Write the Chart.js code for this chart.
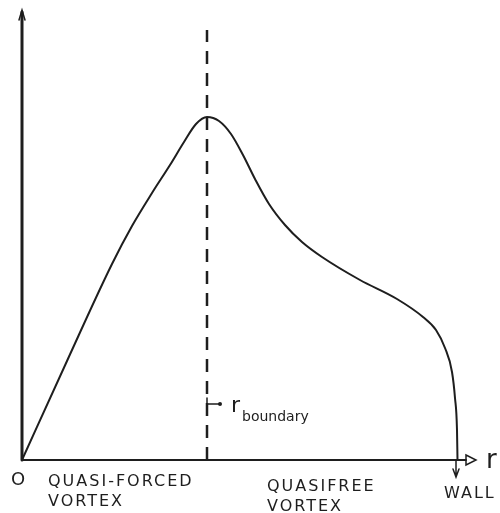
<!DOCTYPE html>
<html>
<head>
<meta charset="utf-8">
<script src="https://cdn.jsdelivr.net/npm/chart.js@4"></script>
<style>
  body { margin: 0; background: #fff; }
  canvas { display: block; }
</style>
</head>
<body>
<canvas id="vortexChart" width="500" height="513"></canvas>
<script>
// radius values and velocity (arbitrary units)
const rValues = [0, 45, 90, 110, 130, 148, 162, 174, 185, 197, 209, 221, 233, 247, 263, 280, 300, 338, 375, 401, 414, 423, 430, 433, 435, 435.5];
const vValues = [0, 99, 196, 234, 267, 295, 318, 336, 343, 339, 326, 305, 281, 256, 235, 218, 203, 180, 161, 143, 130, 112, 88, 62, 30, 0];
const boundaryR = 185;
const boundaryTop = 430;
const wallR = 434;
const axisMax = [450, 450];
const regionLabels = [['QUASI-FORCED', 'VORTEX'], ['QUASIFREE', 'VORTEX']];

const ink = '#1e1e1e';
const handFont = '"DejaVu Sans", sans-serif';

const curve = rValues.map((r, i) => ({ x: r, y: vValues[i] }));
const boundaryLine = [{ x: boundaryR, y: 0 }, { x: boundaryR, y: boundaryTop }];

const sketchPlugin = {
    id: 'sketch',
    afterDatasetsDraw(chart) {
        const ctx = chart.ctx;
        const xs = chart.scales.x;
        const ys = chart.scales.y;
        const x0 = xs.getPixelForValue(0);
        const y0 = ys.getPixelForValue(0);
        const yTop = ys.getPixelForValue(axisMax[1]);
        const xEnd = xs.getPixelForValue(axisMax[0]);

        ctx.save();
        ctx.strokeStyle = ink;
        ctx.fillStyle = ink;
        ctx.lineCap = 'round';

        // vertical axis
        ctx.lineWidth = 3;
        ctx.beginPath();
        ctx.moveTo(x0, y0);
        ctx.lineTo(x0, yTop + 2);
        ctx.stroke();
        ctx.lineWidth = 1.5;
        ctx.beginPath();
        ctx.moveTo(x0 - 3, yTop + 10);
        ctx.lineTo(x0, yTop);
        ctx.lineTo(x0 + 3, yTop + 10);
        ctx.stroke();

        // horizontal axis with open arrow
        ctx.lineWidth = 2;
        ctx.beginPath();
        ctx.moveTo(x0, y0);
        ctx.lineTo(xEnd - 6, y0);
        ctx.stroke();
        ctx.lineWidth = 1.5;
        ctx.beginPath();
        ctx.moveTo(xEnd - 6, y0 - 5);
        ctx.lineTo(xEnd + 4, y0);
        ctx.lineTo(xEnd - 6, y0 + 5);
        ctx.closePath();
        ctx.stroke();

        // wall arrow below the axis
        const xw = xs.getPixelForValue(wallR);
        ctx.lineWidth = 1.5;
        ctx.beginPath();
        ctx.moveTo(xw, y0);
        ctx.lineTo(xw, y0 + 16);
        ctx.moveTo(xw - 3, y0 + 9);
        ctx.lineTo(xw, y0 + 17);
        ctx.lineTo(xw + 3, y0 + 9);
        ctx.stroke();

        // boundary marker
        const xb = xs.getPixelForValue(boundaryR);
        const yb = ys.getPixelForValue(56);
        ctx.beginPath();
        ctx.moveTo(xb, yb - 6);
        ctx.lineTo(xb, yb + 6);
        ctx.moveTo(xb, yb);
        ctx.lineTo(xb + 12, yb);
        ctx.stroke();
        ctx.beginPath();
        ctx.arc(xb + 13, yb, 2, 0, Math.PI * 2);
        ctx.fill();

        // text
        ctx.textBaseline = 'alphabetic';
        ctx.font = '22px ' + handFont;
        ctx.fillText('r', xb + 24, yb + 8);
        ctx.font = '14px ' + handFont;
        ctx.fillText('boundary', xb + 35, yb + 17);

        ctx.font = '26px ' + handFont;
        ctx.fillText('r', xEnd + 14, y0 + 8);

        ctx.font = '18px ' + handFont;
        ctx.fillText('O', x0 - 11, y0 + 25);

        ctx.font = '16px ' + handFont;
        ctx.letterSpacing = '2px';
        ctx.fillText(regionLabels[0][0], x0 + 26, y0 + 26);
        ctx.fillText(regionLabels[0][1], x0 + 26, y0 + 46);
        ctx.fillText(regionLabels[1][0], xs.getPixelForValue(245), y0 + 31);
        ctx.fillText(regionLabels[1][1], xs.getPixelForValue(245), y0 + 51);
        ctx.fillText('WALL', xw - 12, y0 + 38);
        ctx.restore();
    }
};

new Chart(document.getElementById('vortexChart').getContext('2d'), {
    type: 'scatter',
    data: {
        datasets: [
            {
                data: curve,
                showLine: true,
                borderColor: ink,
                borderWidth: 2,
                pointRadius: 0,
                cubicInterpolationMode: 'monotone'
            },
            {
                data: boundaryLine,
                showLine: true,
                borderColor: ink,
                borderWidth: 2.5,
                borderDash: [13, 9],
                pointRadius: 0
            }
        ]
    },
    options: {
        responsive: false,
        animation: false,
        layout: { padding: { left: 22, right: 28, top: 10, bottom: 53 } },
        plugins: {
            legend: { display: false },
            tooltip: { enabled: false }
        },
        scales: {
            x: { type: 'linear', min: 0, max: axisMax[0], display: false },
            y: { type: 'linear', min: 0, max: axisMax[1], display: false }
        }
    },
    plugins: [sketchPlugin]
});
</script>
</body>
</html>
